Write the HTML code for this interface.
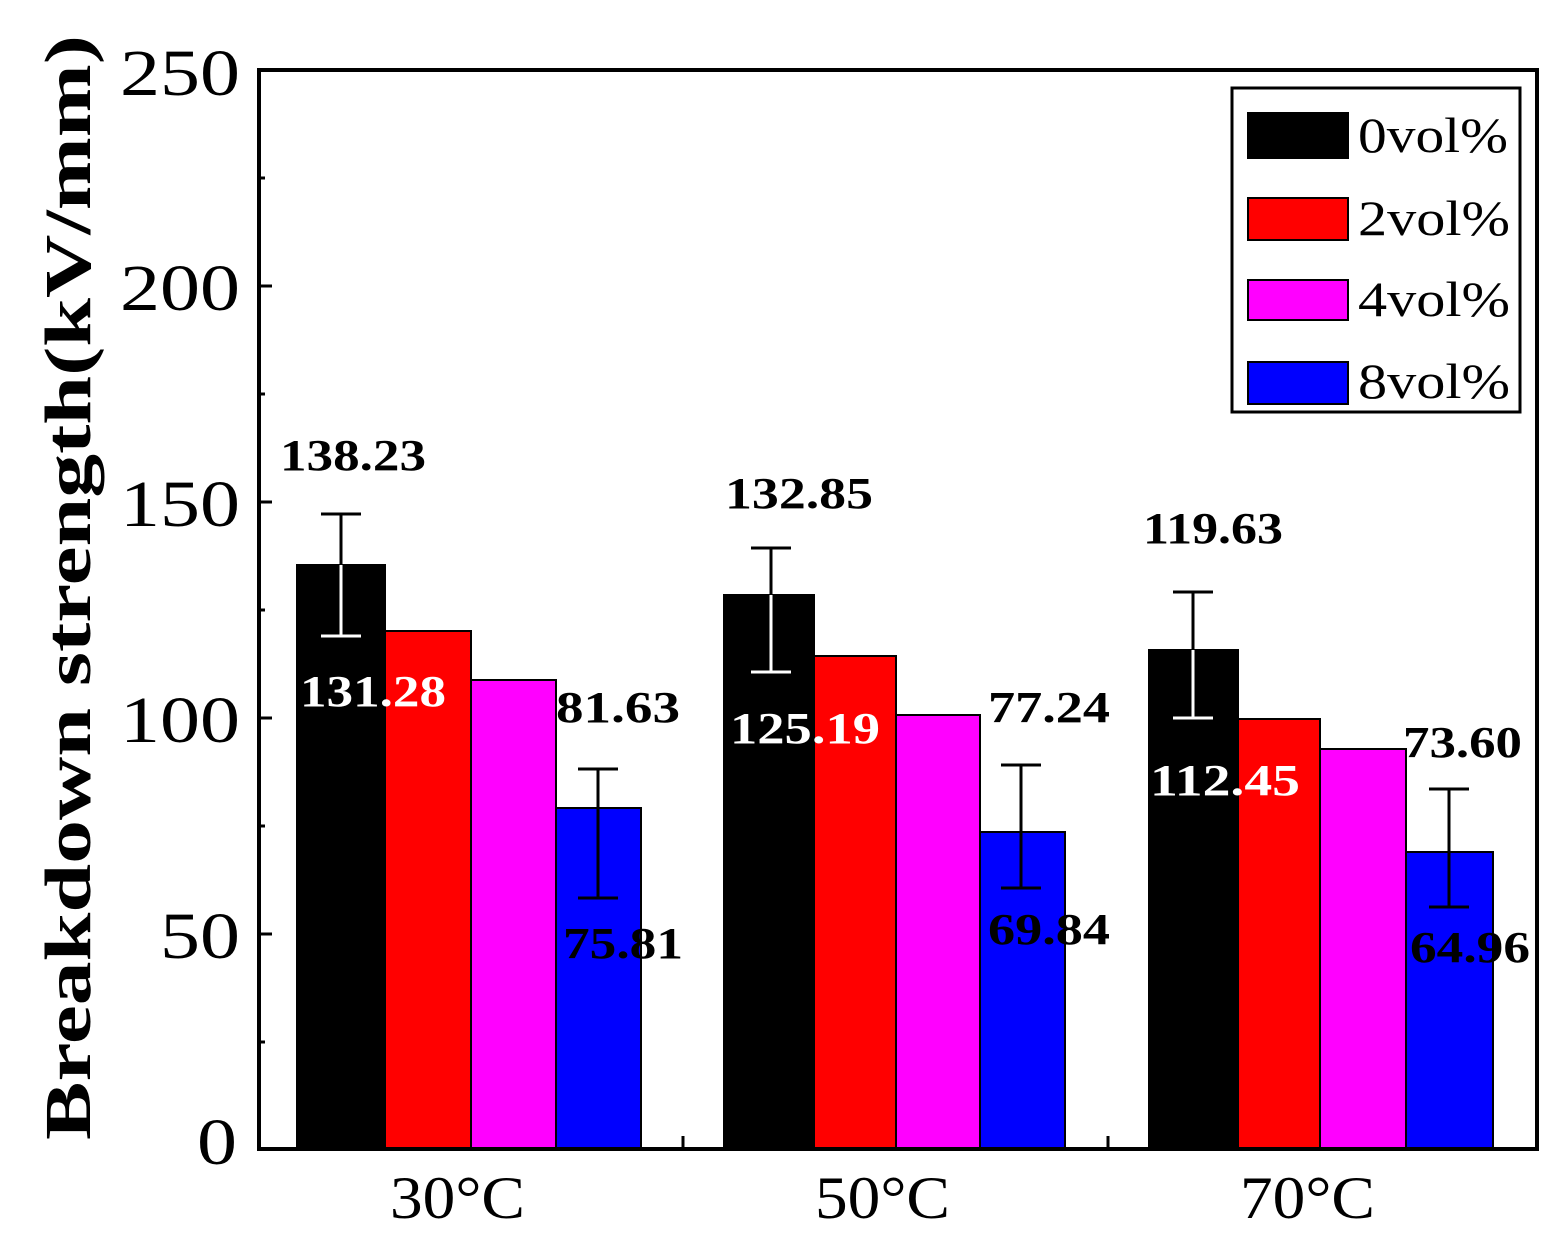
<!DOCTYPE html>
<html><head><style>html,body{margin:0;padding:0;background:#fff}</style></head><body>
<svg width="1568" height="1244" viewBox="0 0 1568 1244" xmlns="http://www.w3.org/2000/svg" font-family="Liberation Serif, serif">
<rect width="1568" height="1244" fill="#fff"/>
<g stroke="#000" stroke-width="2">
<rect x="297" y="565" width="88" height="584" fill="#000"/>
<rect x="385" y="631" width="86" height="518" fill="#f00"/>
<rect x="471" y="680" width="85" height="469" fill="#f0f"/>
<rect x="556" y="808" width="85" height="341" fill="#00f"/>
<rect x="724" y="595" width="90" height="554" fill="#000"/>
<rect x="814" y="656" width="82" height="493" fill="#f00"/>
<rect x="896" y="715" width="84" height="434" fill="#f0f"/>
<rect x="980" y="832" width="85" height="317" fill="#00f"/>
<rect x="1149" y="650" width="89" height="499" fill="#000"/>
<rect x="1238" y="719" width="82" height="430" fill="#f00"/>
<rect x="1320" y="749" width="86" height="400" fill="#f0f"/>
<rect x="1406" y="852" width="87" height="297" fill="#00f"/>
</g>
<g stroke-width="3" fill="none">
<path d="M341 514V565M321 514H361" stroke="#000"/><path d="M341 565V636M321 636H361" stroke="#fff"/>
<path d="M771 548V595M751 548H791" stroke="#000"/><path d="M771 595V672M751 672H791" stroke="#fff"/>
<path d="M1193 592V650M1173 592H1213" stroke="#000"/><path d="M1193 650V718M1173 718H1213" stroke="#fff"/>
<path d="M598 769V898M578 769H618M578 898H618" stroke="#000"/>
<path d="M1021 765V888M1001 765H1041M1001 888H1041" stroke="#000"/>
<path d="M1449 789V907M1429 789H1469M1429 907H1469" stroke="#000"/>
</g>
<rect x="259" y="70" width="1278" height="1079" fill="none" stroke="#000" stroke-width="4"/>
<g stroke="#000" stroke-width="3">
<path d="M259 286H272M259 502H272M259 718H272M259 934H272"/>
<path d="M259 178H265M259 394H265M259 610H265M259 826H265M259 1042H265"/>
<path d="M683 1149V1136M1108 1149V1136"/>
</g>
<g font-size="66" fill="#000" lengthAdjust="spacingAndGlyphs">
<text x="120" y="95" textLength="120" lengthAdjust="spacingAndGlyphs">250</text>
<text x="120" y="310" textLength="120" lengthAdjust="spacingAndGlyphs">200</text>
<text x="120" y="526" textLength="120" lengthAdjust="spacingAndGlyphs">150</text>
<text x="120" y="742" textLength="120" lengthAdjust="spacingAndGlyphs">100</text>
<text x="160" y="958" textLength="80" lengthAdjust="spacingAndGlyphs">50</text>
<text x="197" y="1164" textLength="40" lengthAdjust="spacingAndGlyphs">0</text>
</g>
<text transform="translate(90,1140) rotate(-90)" font-size="66" font-weight="bold" textLength="1105" lengthAdjust="spacingAndGlyphs">Breakdown strength(kV/mm)</text>
<g font-size="60">
<text x="390" y="1218" textLength="135" lengthAdjust="spacingAndGlyphs">30°C</text>
<text x="815" y="1218" textLength="135" lengthAdjust="spacingAndGlyphs">50°C</text>
<text x="1240" y="1218" textLength="135" lengthAdjust="spacingAndGlyphs">70°C</text>
</g>
<g font-size="44" font-weight="bold">
<text x="280" y="470" textLength="146" lengthAdjust="spacingAndGlyphs">138.23</text>
<text x="300" y="706" fill="#fff" textLength="146" lengthAdjust="spacingAndGlyphs">131.28</text>
<text x="556" y="722" textLength="124" lengthAdjust="spacingAndGlyphs">81.63</text>
<text x="563" y="958" textLength="120" lengthAdjust="spacingAndGlyphs">75.81</text>
<text x="725" y="508" textLength="148" lengthAdjust="spacingAndGlyphs">132.85</text>
<text x="730" y="743" fill="#fff" textLength="150" lengthAdjust="spacingAndGlyphs">125.19</text>
<text x="988" y="722" textLength="122" lengthAdjust="spacingAndGlyphs">77.24</text>
<text x="988" y="944" textLength="122" lengthAdjust="spacingAndGlyphs">69.84</text>
<text x="1143" y="543" textLength="140" lengthAdjust="spacingAndGlyphs">119.63</text>
<text x="1150" y="795" fill="#fff" textLength="150" lengthAdjust="spacingAndGlyphs">112.45</text>
<text x="1403" y="757" textLength="119" lengthAdjust="spacingAndGlyphs">73.60</text>
<text x="1410" y="962" textLength="120" lengthAdjust="spacingAndGlyphs">64.96</text>
</g>
<rect x="1232" y="88" width="288" height="324" fill="#fff" stroke="#000" stroke-width="3"/>
<g stroke="#000" stroke-width="2">
<rect x="1248" y="113" width="100" height="45" fill="#000"/>
<rect x="1248" y="198" width="100" height="42" fill="#f00"/>
<rect x="1248" y="280" width="100" height="40" fill="#f0f"/>
<rect x="1248" y="362" width="100" height="42" fill="#00f"/>
</g>
<g font-size="50">
<text x="1358" y="152" textLength="150" lengthAdjust="spacingAndGlyphs">0vol%</text>
<text x="1358" y="235" textLength="152" lengthAdjust="spacingAndGlyphs">2vol%</text>
<text x="1358" y="316" textLength="152" lengthAdjust="spacingAndGlyphs">4vol%</text>
<text x="1358" y="398" textLength="152" lengthAdjust="spacingAndGlyphs">8vol%</text>
</g>
</svg>
</body></html>
